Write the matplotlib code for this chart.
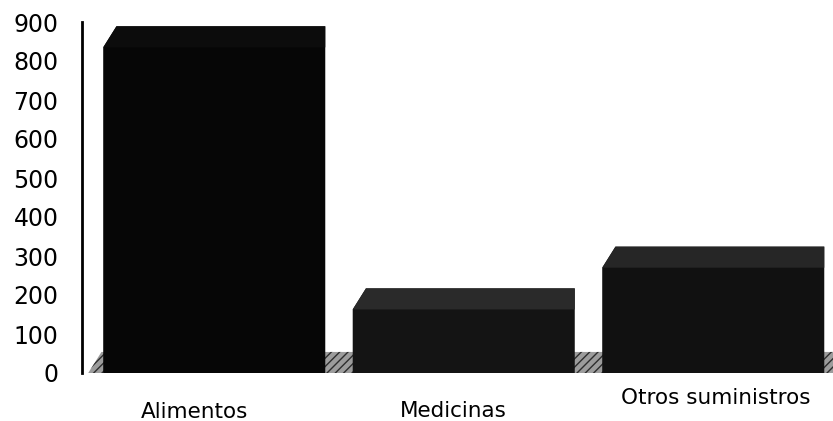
import numpy as np
import matplotlib.pyplot as plt
from matplotlib.patches import Polygon

categorias = ['Alimentos', 'Medicinas', 'Otros suministros']
valores = [835, 163, 270]
yticks = [0, 100, 200, 300, 400, 500, 600, 700, 800, 900]

# colores de cada columna (frente y cara superior)
frente = ['#060606', '#141414', '#111111']
arriba = ['#0c0c0c', '#2a2a2a', '#262626']

ancho = 0.89
dx, dy = 0.053, 54        # profundidad del efecto 3D
x = np.arange(len(categorias))

fig = plt.figure(figsize=(8.33, 4.21), dpi=100)
ax = fig.add_axes([82/833, 48/421, (833-82)/833, (399-48)/421])
ax.set_xlim(-0.53, 2.48)
ax.set_ylim(0, 900)

# piso gris detras de las columnas
piso = Polygon([(-0.505, 0), (-0.505+dx, dy), (2.7, dy), (2.7, 0)],
               closed=True, facecolor='#9c9c9c', edgecolor='#2e2e2e',
               hatch='////', linewidth=0, zorder=1, clip_on=False)
ax.add_patch(piso)

for i, v in enumerate(valores):
    x0 = x[i] - ancho/2
    x1 = x[i] + ancho/2
    cuerpo = Polygon([(x0, 0), (x0, v), (x0+dx, v+dy), (x1, v+dy), (x1, 0)],
                     closed=True, facecolor=frente[i], edgecolor='none',
                     zorder=2, clip_on=False)
    ax.add_patch(cuerpo)
    tapa = Polygon([(x0, v), (x0+dx, v+dy), (x1, v+dy), (x1, v)],
                   closed=True, facecolor=arriba[i], edgecolor='none',
                   zorder=3, clip_on=False)
    ax.add_patch(tapa)

# etiquetas de categoria debajo del piso
desp_x = [-0.08, -0.04, 0.01]
desp_y = [-100, -97, -65]
for i, c in enumerate(categorias):
    ax.text(x[i] + desp_x[i], desp_y[i], c, ha='center', va='center',
            fontsize=15.5, color='black')

ax.set_yticks(yticks)
ax.set_yticklabels([str(t) for t in yticks], fontsize=17, color='black')
ax.tick_params(axis='y', length=0, pad=17)
ax.set_xticks([])
for s in ['top', 'right', 'bottom']:
    ax.spines[s].set_visible(False)
ax.spines['left'].set_linewidth(2)
ax.spines['left'].set_color('black')

fig.savefig('out.png', dpi=100)
